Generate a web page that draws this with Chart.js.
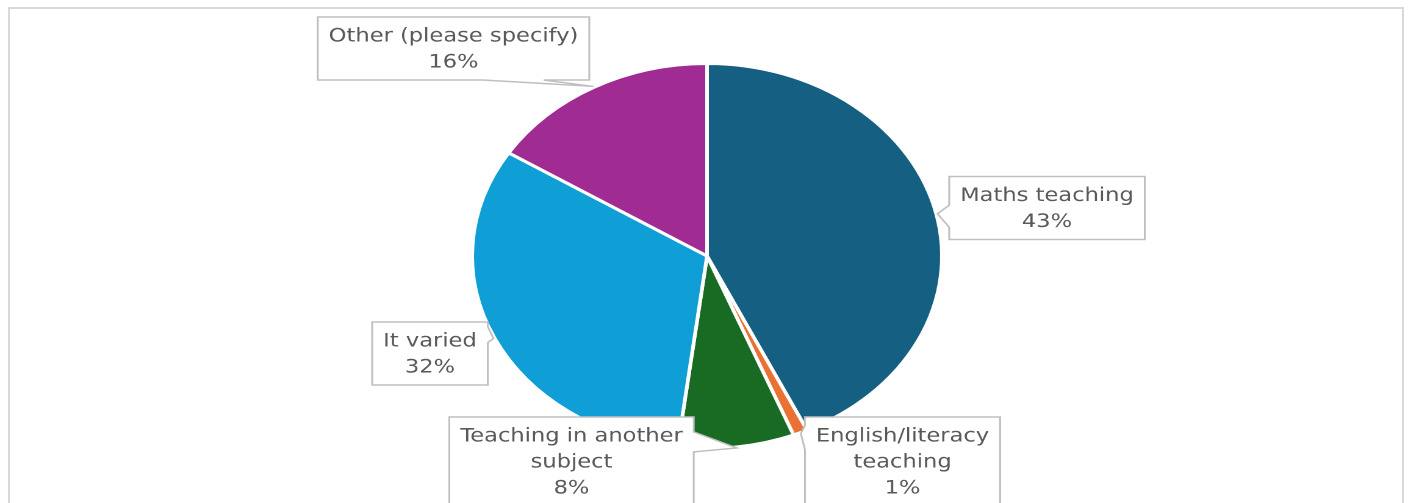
<!DOCTYPE html>
<html>
<head>
<meta charset="utf-8">
<script src="https://cdn.jsdelivr.net/npm/chart.js@4/dist/chart.umd.min.js"></script>
<style>
  html, body { margin: 0; padding: 0; background: #ffffff; width: 1408px; height: 503px; overflow: hidden; }
  #frame { position: absolute; left: 8px; top: 7px; width: 1392px; height: 600px; border: 2px solid #d9d9d9; }
  #wrap { position: absolute; left: 0; top: 0; width: 1154px; height: 503px; transform: scaleX(1.22011); transform-origin: 0 0; }
  #c { display: block; }
</style>
</head>
<body>
<div id="frame"></div>
<div id="wrap"><canvas id="c" width="1154" height="503"></canvas></div>
<script>
// ---- data ----
const categories = ['Maths teaching', 'English/literacy teaching', 'Teaching in another subject', 'It varied', 'Other (please specify)'];
const labelLines = [['Maths teaching'], ['English/literacy', 'teaching'], ['Teaching in another', 'subject'], ['It varied'], ['Other (please specify)']];
const shares = [43, 1, 8, 32, 16];
const sliceColors = ['#156082', '#E97132', '#196B24', '#0F9ED5', '#A02B93'];

// callout box placement (offset of box centre from pie centre, wedge side / position)
const calloutStyle = [
  { dx: 278.6, dy: -48,    side: 'left',   at: 0.63, half: 11 },
  { dx: 160.2, dy: 205.5,  side: 'left',   at: 0.23, half: 12 },
  { dx: -111.1, dy: 205.5, side: 'right',  at: 0.28, half: 10 },
  { dx: -227.1, dy: 97.5,  side: 'right',  at: 0.20, half: 8 },
  { dx: -207.8, dy: -207.5, side: 'bottom', at: 0.72, half: 25 }
];

const FONT = '18.5px "DejaVu Sans"';
const LINE_H = 26, PAD_X = 9, PAD_Y = 5.5;

function calloutPath(ctx, bx, by, w, h, s, tx, ty) {
  ctx.beginPath();
  ctx.moveTo(bx, by);
  if (s.side === 'top') { const c = bx + w * s.at; ctx.lineTo(c - s.half, by); ctx.lineTo(tx, ty); ctx.lineTo(c + s.half, by); }
  ctx.lineTo(bx + w, by);
  if (s.side === 'right') { const c = by + h * s.at; ctx.lineTo(bx + w, c - s.half); ctx.lineTo(tx, ty); ctx.lineTo(bx + w, c + s.half); }
  ctx.lineTo(bx + w, by + h);
  if (s.side === 'bottom') { const c = bx + w * s.at; ctx.lineTo(c + s.half, by + h); ctx.lineTo(tx, ty); ctx.lineTo(c - s.half, by + h); }
  ctx.lineTo(bx, by + h);
  if (s.side === 'left') { const c = by + h * s.at; ctx.lineTo(bx, c + s.half); ctx.lineTo(tx, ty); ctx.lineTo(bx, c - s.half); }
  ctx.closePath();
}

const calloutPlugin = {
  id: 'callouts',
  afterDatasetsDraw(chart) {
    const ctx = chart.ctx;
    const meta = chart.getDatasetMeta(0);
    const data = chart.data.datasets[0].data;
    const total = data.reduce((a, b) => a + b, 0);
    ctx.save();
    ctx.font = FONT;
    meta.data.forEach((arc, i) => {
      const p = arc.getProps(['x', 'y', 'startAngle', 'endAngle', 'outerRadius'], true);
      const mid = (p.startAngle + p.endAngle) / 2;
      const r = p.outerRadius + 1;
      const tx = p.x + Math.cos(mid) * r;
      const ty = p.y + Math.sin(mid) * r;
      const lines = labelLines[i].concat([Math.round(data[i] / total * 100) + '%']);
      const tw = Math.max(...lines.map(l => ctx.measureText(l).width));
      const w = tw + 2 * PAD_X;
      const h = lines.length * LINE_H + 2 * PAD_Y;
      const s = calloutStyle[i];
      const cx = p.x + s.dx, cy = p.y + s.dy;
      const bx = cx - w / 2, by = cy - h / 2;
      calloutPath(ctx, bx, by, w, h, s, tx, ty);
      ctx.fillStyle = '#ffffff';
      ctx.fill();
      ctx.lineWidth = 1.5;
      ctx.strokeStyle = '#bfbfbf';
      ctx.stroke();
      ctx.fillStyle = '#595959';
      ctx.textAlign = 'center';
      ctx.textBaseline = 'middle';
      lines.forEach((l, k) => {
        ctx.fillText(l, cx, by + PAD_Y + LINE_H * (k + 0.5) + 1);
      });
    });
    ctx.restore();
  }
};

new Chart(document.getElementById('c'), {
  type: 'pie',
  data: {
    labels: categories,
    datasets: [{
      data: shares,
      backgroundColor: sliceColors,
      borderColor: '#ffffff',
      borderWidth: 3
    }]
  },
  options: {
    responsive: false,
    devicePixelRatio: 2,
    animation: false,
    events: [],
    layout: { padding: { top: 62, bottom: 53, left: 200, right: 195 } },
    plugins: { legend: { display: false }, tooltip: { enabled: false } }
  },
  plugins: [calloutPlugin]
});
</script>
</body>
</html>
